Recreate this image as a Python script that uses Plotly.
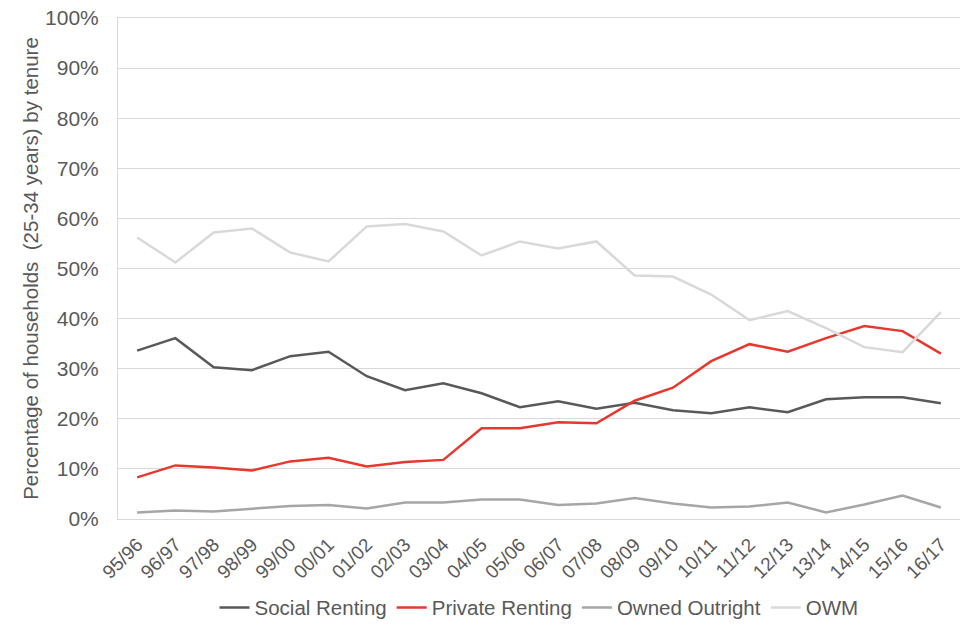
import plotly.graph_objects as go

years = ["95/96", "96/97", "97/98", "98/99", "99/00", "00/01", "01/02", "02/03", "03/04", "04/05",
         "05/06", "06/07", "07/08", "08/09", "09/10", "10/11", "11/12", "12/13", "13/14", "14/15",
         "15/16", "16/17"]

social_renting = [33.6, 36.1, 30.3, 29.7, 32.5, 33.4, 28.5, 25.7, 27.1, 25.1, 22.3,
                  23.5, 22.0, 23.2, 21.7, 21.1, 22.3, 21.3, 23.9, 24.3, 24.3, 23.1]
private_renting = [8.3, 10.7, 10.3, 9.7, 11.5, 12.2, 10.5, 11.4, 11.8, 18.1, 18.1,
                   19.3, 19.1, 23.6, 26.2, 31.5, 34.9, 33.4, 36.1, 38.5, 37.5, 33.0]
owned_outright = [1.3, 1.7, 1.5, 2.1, 2.6, 2.8, 2.1, 3.3, 3.3, 3.9, 3.9,
                  2.8, 3.1, 4.2, 3.1, 2.3, 2.5, 3.3, 1.3, 2.9, 4.7, 2.3]
owm = [56.2, 51.2, 57.2, 58.0, 53.2, 51.4, 58.4, 58.9, 57.4, 52.6, 55.4,
       54.0, 55.4, 48.6, 48.4, 44.8, 39.7, 41.5, 38.1, 34.3, 33.3, 41.3]

series = [
    ("Social Renting", social_renting, "#595959"),
    ("Private Renting", private_renting, "#E8372C"),
    ("Owned Outright", owned_outright, "#A6A6A6"),
    ("OWM", owm, "#D9D9D9"),
]

fig = go.Figure()
for name, vals, color in series:
    fig.add_trace(go.Scatter(
        x=years, y=[v / 100 for v in vals], name=name, mode="lines",
        line=dict(color=color, width=2.5)
    ))

font_family = "Liberation Sans, Arial, sans-serif"
fig.update_layout(
    width=976, height=636,
    margin=dict(l=118, r=16, t=18, b=117, autoexpand=False),
    paper_bgcolor="white", plot_bgcolor="white",
    font=dict(family=font_family, color="#595959", size=19),
    showlegend=True,
    legend=dict(orientation="h", x=0.5, xanchor="center", y=-0.137, yanchor="top",
                font=dict(size=20.5, color="#595959"), traceorder="normal",
                itemwidth=30, tracegroupgap=0),
    xaxis=dict(
        type="category", range=[-0.5, 21.5], tickangle=-45,
        tickfont=dict(size=19, color="#595959"),
        showgrid=False, showline=True, mirror=True, linecolor="#D9D9D9", linewidth=1,
        zeroline=False,
        ticks="outside", ticklen=6, tickcolor="rgba(0,0,0,0)",
        automargin=False,
    ),
    yaxis=dict(
        range=[0, 1], dtick=0.1, tickformat=".0%",
        tickfont=dict(size=21, color="#595959"),
        showgrid=True, gridcolor="#D9D9D9", gridwidth=1,
        showline=True, linecolor="#D9D9D9", linewidth=1,
        zeroline=False, ticks="", ticklabelstandoff=14,
        ticklabeloverflow="allow",
        automargin=False,
        title=dict(text="Percentage of households  (25-34 years) by tenure",
                   font=dict(size=20.5, color="#595959"), standoff=0),
    ),
)

fig.write_html("out.html", config={"displayModeBar": False},
               post_script="document.body.style.margin='0';document.body.style.overflow='hidden';")
